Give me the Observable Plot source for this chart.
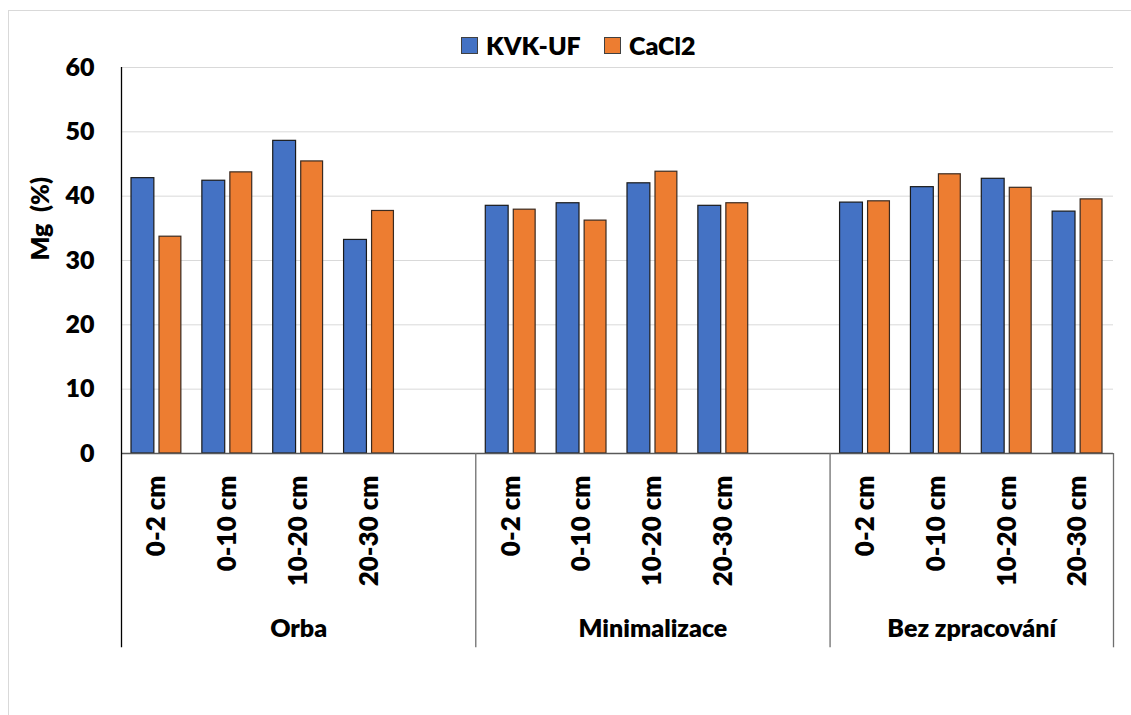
<!DOCTYPE html>
<html>
<head>
<meta charset="utf-8">
<script src="https://cdn.jsdelivr.net/npm/d3@7"></script>
<script src="https://cdn.jsdelivr.net/npm/@observablehq/plot@0.6"></script>
<style>
  html, body { margin: 0; padding: 0; background: #fff; }
  body { width: 1131px; height: 715px; position: relative; overflow: hidden; font-family: Lato, "Open Sans", sans-serif; }
  #frame { position: absolute; left: 8px; top: 10px; width: 1140px; height: 720px; border: 1px solid #d9d9d9; box-sizing: border-box; }
  #legend { position: relative; height: 57px; }
  .item { position: absolute; top: 30px; display: flex; align-items: center; font-weight: 800; font-size: 25px; color: #000; line-height: 30px; }
  .sw { width: 17px; height: 17px; box-sizing: border-box; border: 1px solid #404040; margin-right: 8px; }
  #chart { position: relative; }
</style>
</head>
<body>
<div id="frame"></div>
<div id="legend"></div>
<div id="chart"></div>
<script>
const groups = ["Orba", "Minimalizace", "Bez zpracování"];
const depths = ["0-2 cm", "0-10 cm", "10-20 cm", "20-30 cm"];
const seriesNames = ["KVK-UF", "CaCl2"];
const kvkUF = [42.8, 42.4, 48.6, 33.2, 38.5, 38.9, 42.0, 38.5, 39.0, 41.4, 42.7, 37.6];
const cacl2 = [33.7, 43.7, 45.4, 37.7, 37.9, 36.2, 43.8, 38.9, 39.2, 43.4, 41.3, 39.5];
const yTicks = [0, 10, 20, 30, 40, 50, 60];
const colors = ["#4472C4", "#ED7D31"];

// slots: each depth of each group, plus an empty slot closing the first two groups
const slots = [];
const groupSlots = groups.map((g, gi) => {
  const keys = depths.map(d => g + "|" + d);
  if (gi < groups.length - 1) keys.push(g + "|");
  slots.push(...keys);
  return keys;
});

const rows = [];
groups.forEach((g, gi) => depths.forEach((d, di) => {
  rows.push({slot: g + "|" + d, group: g, depth: d, series: seriesNames[0], value: kvkUF[gi * 4 + di]});
  rows.push({slot: g + "|" + d, group: g, depth: d, series: seriesNames[1], value: cacl2[gi * 4 + di]});
}));
const labelRows = rows.filter(r => r.series === seriesNames[0]);

const W = 1131, H = 658, mL = 121, mR = 18, mT = 10, mB = 262;
const bw = (W - mL - mR) / slots.length;
const yLow = -30.2;

const groupLabelRows = groups.map((g, gi) => {
  const ks = groupSlots[gi];
  const mid = Math.floor((ks.length - 1) / 2);
  return {group: g, slot: ks[mid], dx: ks.length % 2 === 0 ? bw / 2 : 0};
});
const sepRows = groups.map((g, gi) => ({slot: groupSlots[gi][0], dx: -bw / 2}))
  .concat([{slot: slots[slots.length - 1], dx: bw / 2}]);

const font = "Lato, 'Open Sans', sans-serif";
const fw = 800;

const chart = Plot.plot({
  width: W, height: H,
  marginLeft: mL, marginRight: mR, marginTop: mT, marginBottom: mB,
  style: {fontFamily: font, fontWeight: fw, color: "#000", background: "transparent", overflow: "visible"},
  x: {type: "band", domain: slots, padding: 0, round: false, axis: null},
  y: {domain: [0, 60], axis: null},
  marks: [
    Plot.ruleY(yTicks.filter(t => t > 0), {stroke: "#d9d9d9", strokeWidth: 1}),
    Plot.barY(rows.filter(r => r.series === seriesNames[0]), {x: "slot", y: "value", fill: colors[0], stroke: "#1a1a1a", strokeWidth: 1.2, insetLeft: 10, insetRight: 38}),
    Plot.barY(rows.filter(r => r.series === seriesNames[1]), {x: "slot", y: "value", fill: colors[1], stroke: "#3a2a20", strokeWidth: 1.2, insetLeft: 38, insetRight: 11}),
    Plot.ruleY([0], {stroke: "#595959", strokeWidth: 1.3}),
    ...sepRows.map((s, i) => Plot.ruleX([s], {x: "slot", dx: s.dx, y1: i === 0 ? 60 : 0, y2: yLow, stroke: i === 0 ? "#000" : "#6e6e6e", strokeWidth: 1.3})),
    Plot.text(yTicks, {y: d => d, text: d => String(d), frameAnchor: "left", dx: -27, textAnchor: "end", fontSize: 25, fontWeight: fw, fill: "#000"}),
    Plot.text(["Mg  (%)"], {frameAnchor: "left", dx: -81, rotate: -90, fontSize: 25, fontWeight: fw, fill: "#000"}),
    Plot.text(labelRows, {x: "slot", text: "depth", frameAnchor: "bottom", dy: 22, rotate: -90, textAnchor: "end", lineAnchor: "middle", fontSize: 26, fontWeight: fw, fill: "#000"}),
    ...groupLabelRows.map(g => Plot.text([g], {x: "slot", text: "group", dx: g.dx, frameAnchor: "bottom", dy: 175, lineAnchor: "middle", fontSize: 25, fontWeight: fw, fill: "#000"}))
  ]
});
document.getElementById("chart").appendChild(chart);

const legend = document.getElementById("legend");
const lx = [461, 604];
seriesNames.forEach((n, i) => {
  const it = document.createElement("div");
  it.className = "item";
  it.style.left = lx[i] + "px";
  it.innerHTML = `<span class="sw" style="background:${colors[i]}"></span><span>${n}</span>`;
  legend.appendChild(it);
});
</script>
</body>
</html>
